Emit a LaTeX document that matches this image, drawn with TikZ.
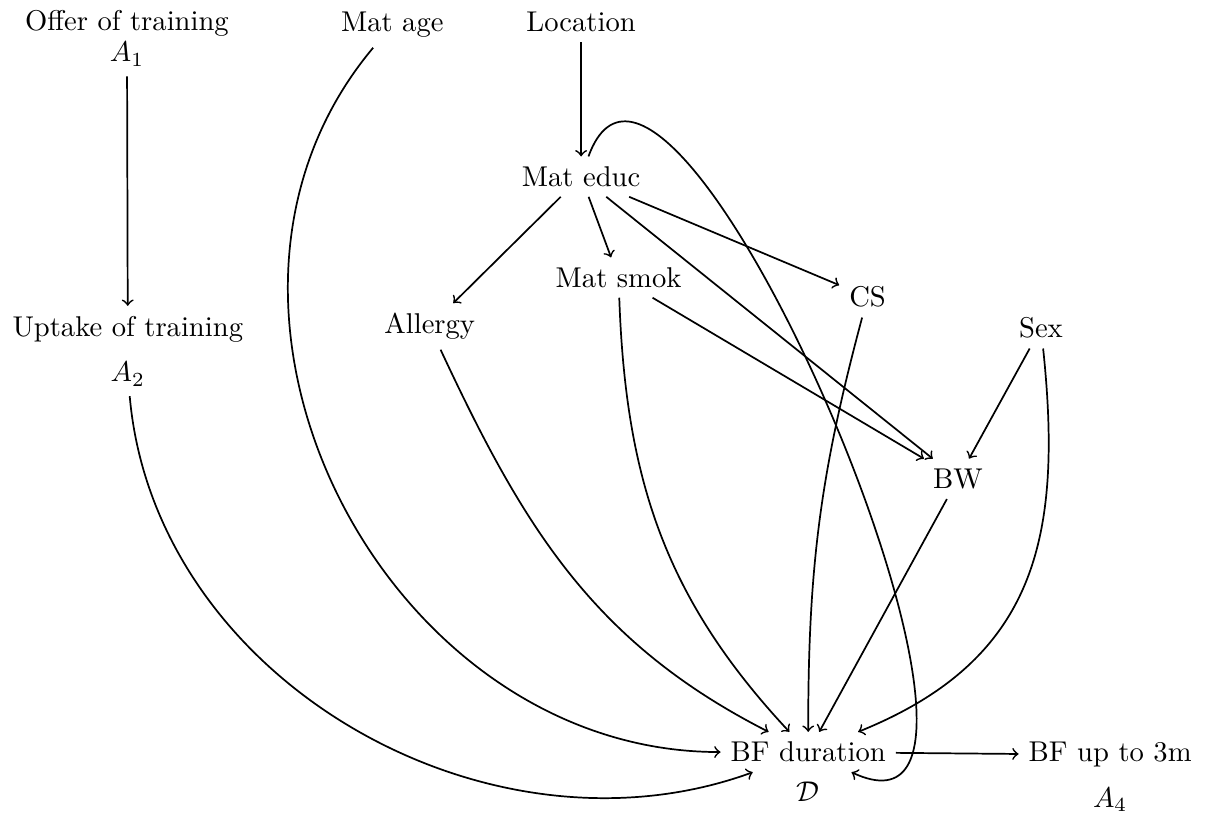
\documentclass[tikz,border=0pt]{standalone}
\usepackage{amsmath}
\usepackage{amssymb}
\usepackage{tikz}

\begin{document}
\begin{tikzpicture}
	\tikzstyle{var}=[anchor=base]
	\tikzstyle{arc}=[->,black,semithick]
	\useasboundingbox (0,0) rectangle (14.83,-10.01);
	% nodes
	\node [align=center] (offer) at (1.56,-0.47) {Offer of training\\[-1pt]$A_1$};
	\node [var] (age) at (4.82,-0.39) {Mat age};
	\node [var] (loc) at (7.14,-0.39) {Location};
	\node [var] (educ) at (7.14,-2.29) {Mat educ};
	\node [var,label={[name=atwo]below:$A_2$}] (uptake) at (1.57,-4.13) {Uptake of training};
	\node [var] (allergy) at (5.28,-4.10) {Allergy};
	\node [var] (smok) at (7.60,-3.53) {Mat smok};
	\node [var] (cs) at (10.66,-3.77) {CS};
	\node [var] (sex) at (12.79,-4.15) {Sex};
	\node [var] (bw) at (11.77,-6.00) {BW};
	\node [var,label={[name=dlab]below:$\mathcal{D}$}] (bfd) at (9.93,-9.36) {BF duration};
	\node [var,label={[name=afour]below:$A_4$}] (bf3) at (13.64,-9.36) {BF up to 3m};
	% straight arrows
	\draw [arc] (offer) -- (uptake);
	\draw [arc] (loc) -- (educ);
	\draw [arc] (educ) -- (allergy);
	\draw [arc] (educ) -- (smok);
	\draw [arc] (educ) -- (cs);
	\draw [arc] (educ) -- (bw);
	\draw [arc] (smok) -- (bw);
	\draw [arc] (sex) -- (bw);
	\draw [arc] (bw) -- (bfd);
	\draw [arc] (bfd) -- (bf3);
	% curved arrows into BF duration
	\draw [arc] (age) to [out=-130,in=180,looseness=1.1] (bfd);
	\draw [arc] (atwo) to [out=-85,in=200] (bfd);
	\draw [arc] (allergy) to [out=-65,in=153] (bfd);
	\draw [arc] (smok) to [out=-88,in=133] (bfd);
	\draw [arc] (cs) to [out=-105,in=90] (bfd);
	\draw [arc] (sex) to [out=-84,in=22,looseness=1.15] (bfd);
	\draw [arc] (educ) to [out=70,in=-25,looseness=0.92] (bfd);
\end{tikzpicture}
\end{document}
